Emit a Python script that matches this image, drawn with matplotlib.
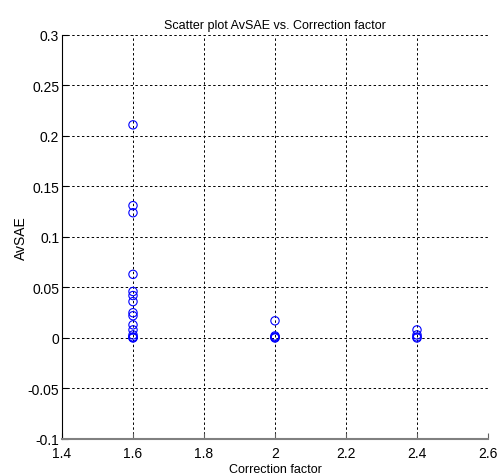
import matplotlib
matplotlib.use("Agg")
import matplotlib.pyplot as plt
import numpy as np

x_vals = [1.6]*15 + [2.0]*5 + [2.4]*4
y_vals = [0.211, 0.131, 0.124, 0.063, 0.046, 0.042, 0.036, 0.025, 0.022, 0.013,
          0.008, 0.003, 0.001, 0.0005, 0.0,
          0.017, 0.002, 0.001, 0.0005, 0.0,
          0.008, 0.003, 0.001, 0.0]
xticks = [1.4, 1.6, 1.8, 2.0, 2.2, 2.4, 2.6]
xticklabels = ["1.4", "1.6", "1.8", "2", "2.2", "2.4", "2.6"]
yticks = [-0.1, -0.05, 0, 0.05, 0.1, 0.15, 0.2, 0.25, 0.3]
yticklabels = ["-0.1", "-0.05", "0", "0.05", "0.1", "0.15", "0.2", "0.25", "0.3"]

plt.rcParams['font.family'] = ['Liberation Sans Narrow', 'Liberation Sans', 'DejaVu Sans']

fig = plt.figure(figsize=(5, 4.77), dpi=100)
ax = fig.add_axes([0.124, 0.0776, 0.852, 0.847])
ax.scatter(x_vals, y_vals, s=36, facecolors='none', edgecolors='#0000ff', linewidths=0.8, zorder=3)
ax.set_xlim(1.4, 2.6)
ax.set_ylim(-0.1, 0.3)
ax.set_xticks(xticks)
ax.set_xticklabels(xticklabels)
ax.set_yticks(yticks)
ax.set_yticklabels(yticklabels)
ax.grid(True, color='black', linestyle=(0, (2.5, 2.5)), linewidth=0.7)
ax.spines['top'].set_visible(False)
ax.spines['right'].set_visible(False)
ax.spines['left'].set_color('black')
ax.spines['bottom'].set_color('#808080')
ax.spines['bottom'].set_linewidth(1.5)
ax.tick_params(direction='in', length=4, labelsize=10, pad=2)
ax.tick_params(axis='x', colors='#606060', labelcolor='black', pad=5)
ax.set_xlabel('Correction factor', fontsize=9, labelpad=2)
ax.set_ylabel('AvSAE', fontsize=10, labelpad=0)
ax.set_title('Scatter plot AvSAE vs. Correction factor', fontsize=9, pad=5)
fig.savefig('out.png', dpi=100)
